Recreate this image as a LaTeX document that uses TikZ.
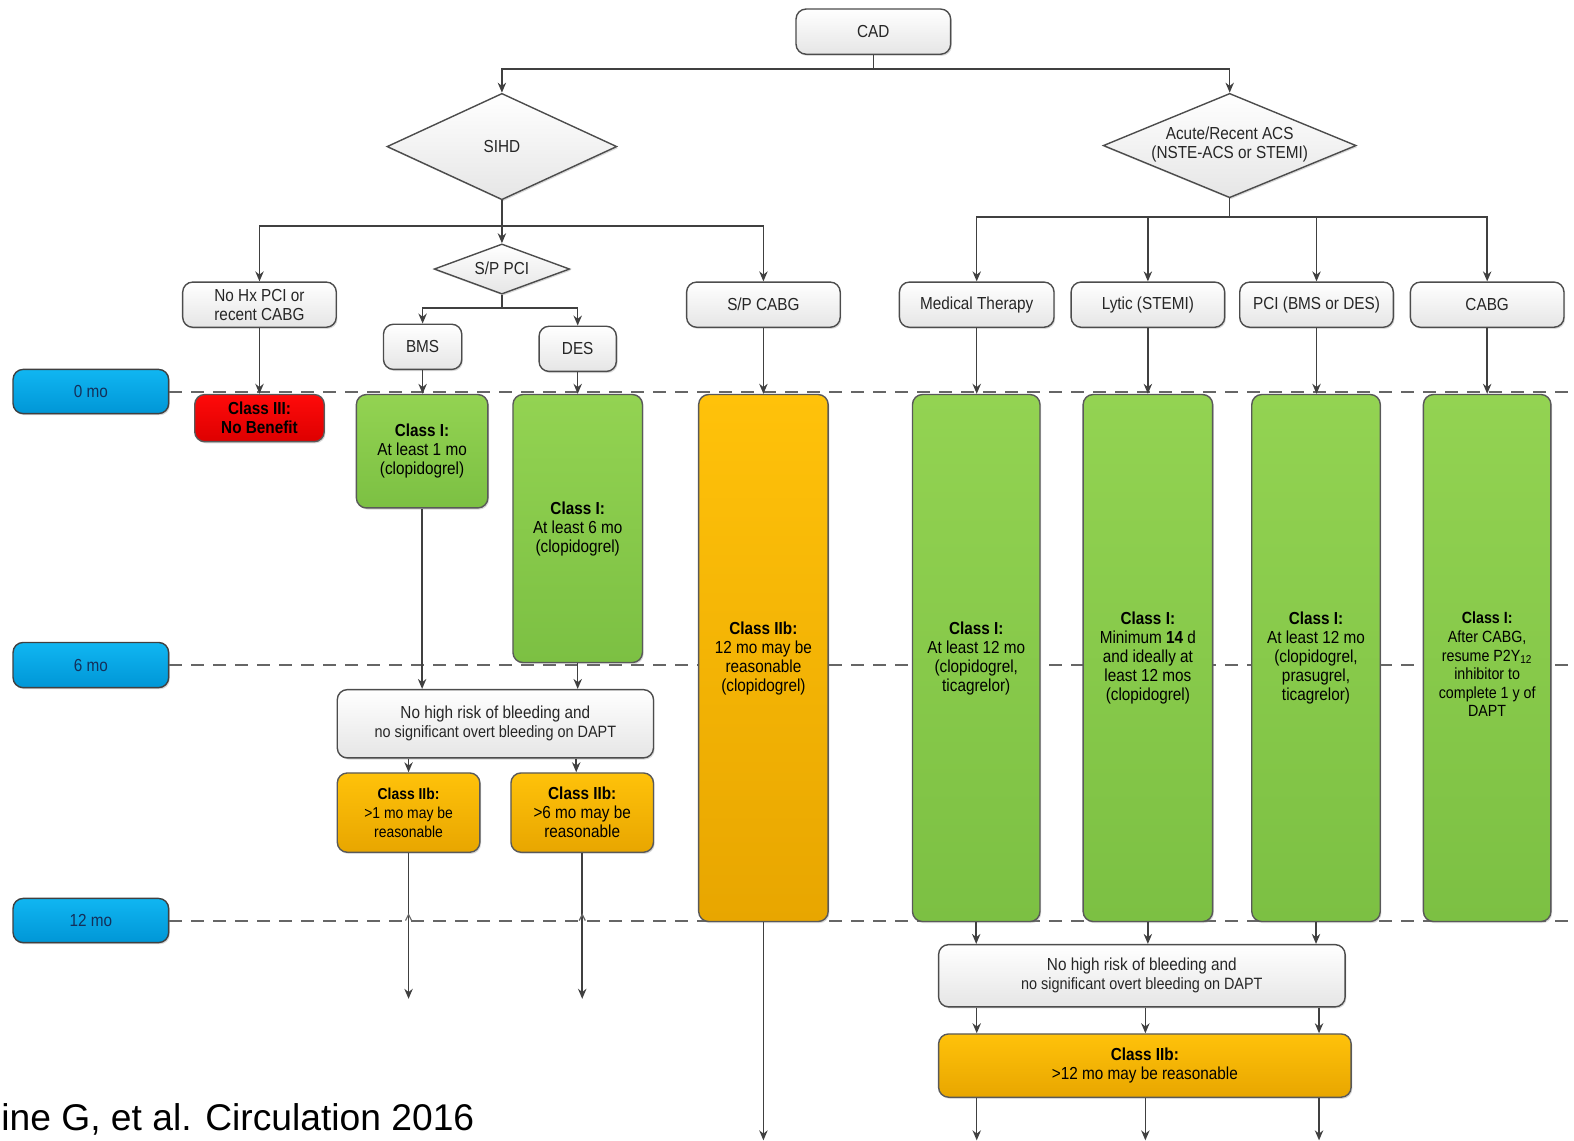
\documentclass[tikz,border=0pt]{standalone}
\usepackage{fontspec}
\setmainfont{Liberation Sans}[FakeStretch=0.88]
\newfontfamily\citefont{Liberation Sans}
\usetikzlibrary{shapes.geometric,arrows.meta,shadows,calc}
\def\pxu{0.50191pt}
\definecolor{gA}{HTML}{93D352}
\definecolor{gB}{HTML}{7CC043}
\definecolor{oA}{HTML}{FFC20A}
\definecolor{oB}{HTML}{E8A600}
\definecolor{rA}{HTML}{FF0A0A}
\definecolor{rB}{HTML}{DD0000}
\definecolor{bA}{HTML}{10B6F2}
\definecolor{bB}{HTML}{0096D6}
\definecolor{bT}{HTML}{14305A}
\definecolor{lnC}{HTML}{404040}
\begin{document}
\begin{tikzpicture}[x=0.50191pt,y=-0.50191pt,
  sz/.style 2 args={minimum width=#1*\pxu,minimum height=#2*\pxu},
  base/.style={inner sep=1pt, align=center, font=\fontsize{8.7}{9.5}\selectfont,
    rounded corners=5pt, draw=black!70, line width=0.7pt,
    drop shadow={shadow xshift=0.6pt,shadow yshift=-0.8pt,opacity=0.3}},
  hdr/.style={base, top color=white, bottom color=black!10, text=black!85},
  dia/.style={shape=diamond, draw=black!70, line width=0.7pt, inner sep=0pt, align=center,
    top color=white, bottom color=black!10, text=black!85,
    font=\fontsize{8.7}{9.5}\selectfont,
    drop shadow={shadow xshift=0.6pt,shadow yshift=-0.8pt,opacity=0.3}},
  blu/.style={base, top color=bA, bottom color=bB, draw=black!75, text=bT},
  grn/.style={base, top color=gA, bottom color=gB, draw=black!65},
  org/.style={base, top color=oA, bottom color=oB, draw=black!65},
  redb/.style={base, top color=rA, bottom color=rB, draw=black!65},
  txt/.style={inner sep=0pt, align=center},
  arr/.style={-{Stealth[length=5pt,width=4.2pt]}, line width=0.75pt, draw=lnC},
  ln/.style={line width=0.75pt, draw=lnC},
  tline/.style={draw=black!60, line width=1pt, dash pattern=on 6.5pt off 4.5pt}]
\useasboundingbox (0,0) rectangle (1568,1136);
\coordinate (rim) at (1568,0);

% timeline
\node[blu, sz={155}{44}] (m0) at (90.5,390) {0 mo};
\node[blu, sz={155}{45}] (m6) at (90.5,662.5) {6 mo};
\node[blu, sz={155}{44}] (m12) at (90.5,917) {12 mo};
\draw[tline] (m0.east) -- (m0.east -| rim);
\draw[tline] (m6.east) -- (m6.east -| rim);
\draw[tline] (m12.east) -- (m12.east -| rim);

% top
\node[hdr, sz={154}{45}] (cad) at (870,31.5) {CAD};
\node[dia, sz={229}{106}] (sihd) at (500,146) {SIHD};
\node[dia, sz={252}{104}] (acs) at (1225,145) {};
\node[txt, text=black!85, font=\fontsize{8.7}{9.5}\selectfont] (acst) at (1225,144) {Acute/Recent ACS\\(NSTE-ACS or STEMI)};
\node[dia, sz={135}{50}] (sppci) at (500,268) {};
\node[txt, text=black!85, font=\fontsize{8.7}{9.5}\selectfont] (sppcit) at (500,267) {S/P PCI};

\node[hdr, sz={153}{45}] (nohx) at (258.5,303.5) {No Hx PCI or\\recent CABG};
\node[hdr, sz={78}{45}] (bms) at (421,345.5) {BMS};
\node[hdr, sz={77}{45}] (des) at (575.5,347.5) {DES};
\node[hdr, sz={153}{45}] (spcabg) at (760.5,303.5) {S/P CABG};
\node[hdr, sz={154}{45}] (med) at (973,303.5) {Medical Therapy};
\node[hdr, sz={153}{45}] (lytic) at (1143.5,303.5) {Lytic (STEMI)};
\node[hdr, sz={153}{45}] (pci) at (1311.5,303.5) {PCI (BMS or DES)};
\node[hdr, sz={153}{45}] (cabg) at (1481.5,303.5) {CABG};

% class boxes
\node[redb, sz={129}{47}] (c3) at (258.5,416.5) {\textbf{Class III:}\\\textbf{No Benefit}};
\node[grn, sz={131}{113}] (g1) at (420.5,449.5) {\textbf{Class I:}\\At least 1 mo\\(clopidogrel)};
\node[grn, sz={129}{267}] (g6) at (575.5,526.5) {\textbf{Class I:}\\At least 6 mo\\(clopidogrel)};
\node[org, sz={129}{525}] (ocabg) at (760.5,655.5) {\textbf{Class IIb:}\\12 mo may be\\reasonable\\(clopidogrel)};
\node[grn, sz={127}{525}] (gmed) at (972.5,655.5) {\textbf{Class I:}\\At least 12 mo\\(clopidogrel,\\ticagrelor)};
\node[grn, sz={129}{525}] (glyt) at (1143.5,655.5) {\textbf{Class I:}\\Minimum \textbf{14} d\\and ideally at\\least 12 mos\\(clopidogrel)};
\node[grn, sz={128}{525}] (gpci) at (1311,655.5) {\textbf{Class I:}\\At least 12 mo\\(clopidogrel,\\prasugrel,\\ticagrelor)};
\node[grn, sz={127}{525}] (gcab) at (1481.5,655.5) {};
\node[txt, font=\fontsize{8.1}{9.3}\selectfont] (gcabt) at (1481.5,662) {\textbf{Class I:}\\After CABG,\\resume P2Y\textsubscript{12}\\inhibitor to\\complete 1 y of\\DAPT};

\node[hdr, sz={315}{68}] (nh1) at (493.5,721) {No high risk of bleeding and\\{\fontsize{8.2}{9}\selectfont no significant overt bleeding on DAPT}};
\node[org, sz={142}{79}, font=\fontsize{7.9}{9.5}\selectfont] (o1) at (407,809.5) {\textbf{Class IIb:}\\>1 mo may be\\reasonable};
\node[org, sz={142}{79}] (o6) at (580,809.5) {\textbf{Class IIb:}\\>6 mo may be\\reasonable};
\node[hdr, sz={405}{62}] (nh2) at (1137.5,972) {No high risk of bleeding and\\{\fontsize{8.2}{9}\selectfont no significant overt bleeding on DAPT}};
\node[org, sz={411}{63}] (o12) at (1140.5,1061.5) {\textbf{Class IIb:}\\>12 mo may be reasonable};

\node[anchor=base west, inner sep=0pt, font=\citefont\fontsize{18.6}{20}\selectfont] (cite) at (1,1126) {ine G, et al. Circulation 2016};

% connectors top
\draw[ln] (cad.south) -- ++(0,14) coordinate (j0);
\draw[arr] (j0) -| (sihd.north);
\draw[arr] (j0) -| (acs.north);
\draw[ln] (sihd.south) -- (500,225) coordinate (j1);
\draw[arr] (j1) -| (nohx.north);
\draw[arr] (j1) -| (spcabg.north);
\draw[arr] (j1) -- (sppci.north);
\draw[ln] (sppci.south) -- (500,307) coordinate (j2);
\draw[arr] (j2) -| (bms.north);
\draw[arr] (j2) -| (des.north);
\draw[ln] (acs.south) -- (1225,216) coordinate (j3);
\draw[arr] (j3) -| (med.north);
\draw[arr] (j3) -| (lytic.north);
\draw[arr] (j3) -| (pci.north);
\draw[arr] (j3) -| (cabg.north);

% headers to class boxes
\draw[arr] (nohx.south) -- (nohx.south |- c3.north);
\draw[arr] (bms.south) -- (bms.south |- g1.north);
\draw[arr] (des.south) -- (des.south |- g6.north);
\draw[arr] (spcabg.south) -- (spcabg.south |- ocabg.north);
\draw[arr] (med.south) -- (med.south |- gmed.north);
\draw[arr] (lytic.south) -- (lytic.south |- glyt.north);
\draw[arr] (pci.south) -- (pci.south |- gpci.north);
\draw[arr] (cabg.south) -- (cabg.south |- gcab.north);

% left lower flow
\draw[arr] (g1.south) -- (g1.south |- nh1.north);
\draw[arr] (g6.south) -- (g6.south |- nh1.north);
\draw[arr] (o1.north |- nh1.south) -- (o1.north);
\draw[arr] ([xshift=-3pt]o6.north |- nh1.south) -- ([xshift=-3pt]o6.north);
\coordinate (f1) at (407,995);
\coordinate (f6) at (580,995);
\draw[arr] (o1.south) -- (f1);
\draw[arr] (o6.south) -- (f6);
\draw[lnC!80, line width=0.6pt] (404,917) -- (407,911) -- (410,917);
\draw[lnC!80, line width=0.6pt] (577,917) -- (580,911) -- (583,917);
\coordinate (fc) at (760.5,1136);
\draw[arr] (ocabg.south) -- (fc);

% right lower flow
\draw[arr] (gmed.south) -- (gmed.south |- nh2.north);
\draw[arr] (glyt.south) -- (glyt.south |- nh2.north);
\draw[arr] (gpci.south) -- (gpci.south |- nh2.north);
\coordinate (r1) at (973,0);
\coordinate (r2) at (1141,0);
\coordinate (r3) at (1314,0);
\coordinate (bot) at (0,1136);
\draw[arr] (r1 |- nh2.south) -- (r1 |- o12.north);
\draw[arr] (r2 |- nh2.south) -- (r2 |- o12.north);
\draw[arr] (r3 |- nh2.south) -- (r3 |- o12.north);
\draw[arr] (r1 |- o12.south) -- (r1 |- bot);
\draw[arr] (r2 |- o12.south) -- (r2 |- bot);
\draw[arr] (r3 |- o12.south) -- (r3 |- bot);
\end{tikzpicture}
\end{document}
